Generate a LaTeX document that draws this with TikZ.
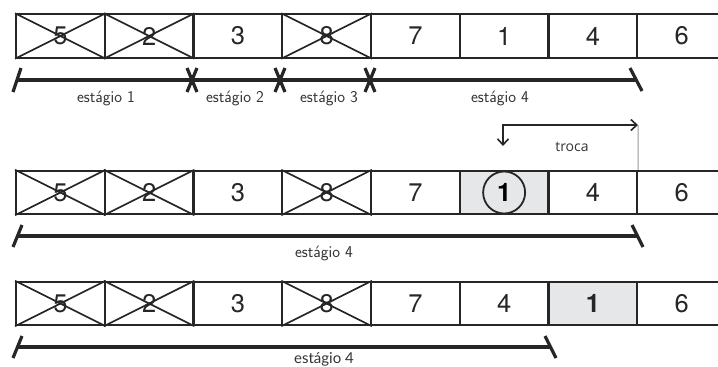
\documentclass[tikz,border=0pt]{standalone}
\usepackage{fontspec}
\setmainfont{TeX Gyre Heros}
\newfontfamily\lblfont{Latin Modern Sans}
\newfontfamily\trocafont{Open Sans}
\newfontfamily\botfont{Lato}
\usetikzlibrary{arrows.meta}
\definecolor{cellgray}{HTML}{E6E7E8}
\definecolor{linegray}{HTML}{9A9A9A}
\begin{document}
\begin{tikzpicture}[x=1pt,y=-1pt,
  cell/.style={draw=black!85,line width=2pt,minimum width=88.6pt,minimum height=43.5pt,inner sep=0pt,font=\fontsize{25.5}{27}\selectfont,text=black!85},
  shaded/.style={fill=cellgray},
  crossl/.style={draw=black!85,line width=1.7pt},
  bar/.style={draw=black!85,line width=3.2pt},
  tick/.style={draw=black!85,line width=3.2pt},
  lbl/.style={font=\lblfont\fontsize{16.5}{18}\selectfont,text=black!80,inner sep=0pt},
  swap/.style={draw=black!85,line width=1.6pt,{Straight Barb[length=6pt,width=11pt]}-{Straight Barb[length=6pt,width=11pt]}}
]
\useasboundingbox (0,0) rectangle (718,367);
% ---------- row 1
\foreach \v [count=\i] in {5,2,3,8,7,1,4,6}{
  \node[cell] (a\i) at ({16+88.75*(\i-1)+44.375},36) {\v};
}
% ---------- row 2
\foreach \v [count=\i] in {5,2,3,8,7,1,4,6}{
  \ifnum\i=6
    \node[cell,shaded] (b\i) at ({16+88.75*(\i-1)+44.375},192.5) {};
  \else
    \node[cell] (b\i) at ({16+88.75*(\i-1)+44.375},192.5) {\v};
  \fi
}
\node[draw=black!85,line width=1.8pt,circle,minimum size=42pt,inner sep=0pt,font=\fontsize{25.5}{27}\selectfont\bfseries] (one) at (b6.center) {1};
% ---------- row 3
\foreach \v [count=\i] in {5,2,3,8,7,4,1,6}{
  \ifnum\i=7
    \node[cell,shaded,font=\fontsize{25.5}{27}\selectfont\bfseries] (c\i) at ({16+88.75*(\i-1)+44.375},303.5) {\v};
  \else
    \node[cell] (c\i) at ({16+88.75*(\i-1)+44.375},303.5) {\v};
  \fi
}
% crosses
\foreach \r in {a,b,c}{
  \foreach \i in {1,2,4}{
    \draw[crossl] (\r\i.north west) -- (\r\i.south east);
    \draw[crossl] (\r\i.south west) -- (\r\i.north east);
  }
}
% ---------- bars row 1
\coordinate (s1) at (17,80);
\coordinate (e1) at (636,80);
\draw[bar] (s1) -- (e1);
\draw[tick] (13,92) -- (21,68);
\draw[tick] (630,68) -- (642,91);
\foreach \x in {192,280,370}{
  \draw[tick] (\x-5,68) -- (\x+5,92);
  \draw[tick] (\x+5,68) -- (\x-5,92);
}
\node[lbl] (l1) at (106,98) {estágio 1};
\node[lbl] (l2) at (235,98) {estágio 2};
\node[lbl] (l3) at (329,98) {estágio 3};
\node[lbl] (l4) at (500,98) {estágio 4};
% ---------- swap arrow
\coordinate (sw0) at (503,146);
\coordinate (sw1) at (503,125);
\coordinate (sw2) at (638,125);
\draw[linegray,line width=1pt] (sw2) -- (b7.north east);
\draw[swap] (sw0) -- (sw1) -- (sw2);
\node[font=\trocafont\fontsize{14}{16}\selectfont,text=black!80,inner sep=0pt] (tr) at (572,147) {troca};
% ---------- bar row 2
\draw[bar] (17,236) -- (637,236);
\draw[tick] (13,247) -- (22,225);
\draw[tick] (632,225) -- (643,247);
\node[lbl] (l5) at (324,253) {estágio 4};
% ---------- bar row 3
\draw[bar] (17,347) -- (550,347);
\draw[tick] (13,358) -- (22,336);
\draw[tick] (545,336) -- (556,358);
\node[font=\botfont\fontsize{15}{17}\selectfont,text=black!80,inner sep=0pt] (l6) at (324,359) {estágio 4};
\end{tikzpicture}
\end{document}
